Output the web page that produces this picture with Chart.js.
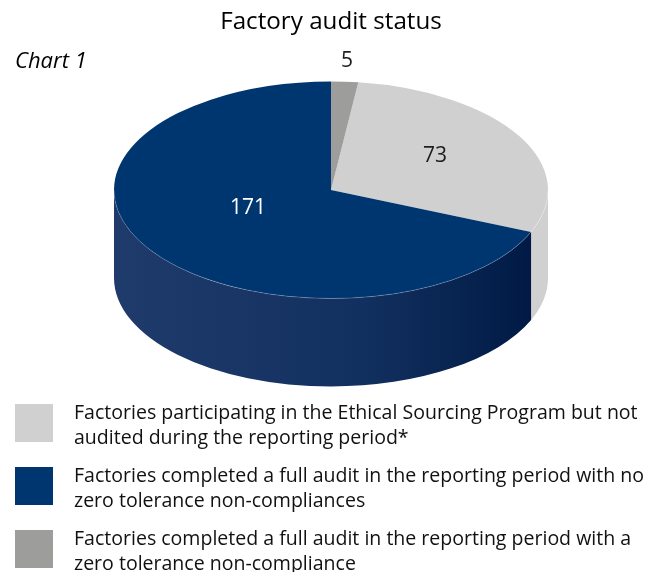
<!DOCTYPE html>
<html>
<head>
<meta charset="utf-8">
<style>html,body{margin:0;padding:0;background:#fff}canvas{display:block}</style>
<script src="https://cdn.jsdelivr.net/npm/chart.js@4"></script>
</head>
<body>
<canvas id="c" width="647" height="572"></canvas>
<script>
const titleText = 'Factory audit status';
const subtitleText = 'Chart 1';
const categories = [
  ['Factories participating in the Ethical Sourcing Program but not', 'audited during the reporting period*'],
  ['Factories completed a full audit in the reporting period with no', 'zero tolerance non-compliances'],
  ['Factories completed a full audit in the reporting period with a', 'zero tolerance non-compliance']
];
const values = [73, 171, 5];
const topColours = ['#d0d0d0', '#003670', '#9d9d9c'];
const sideFrom = ['#d0d0d0', '#1f3b6c', '#9d9d9c'];
const sideTo = ['#d0d0d0', '#001a45', '#9d9d9c'];
const labelColours = ['#1d1d1b', '#ffffff', '#1d1d1b'];
const labelOffsets = [[104, -34], [-83, 18], [16, -129]];

const FONT = '"Open Sans", "Noto Sans", sans-serif';
const squash = 0.5, depth = 88, pieRadius = 217, pieCentreY = 190;
const legendLeft = 15, legendTops = [404, 467, 530], boxSize = 38, legendTextX = 74, lineGap = 24.5;
const legendFont = '19.55px ' + FONT;

const pie3d = {
  id: 'pie3d',
  beforeDatasetDraw(chart) {
    const ctx = chart.ctx, arcs = chart.getDatasetMeta(0).data;
    const cx = arcs[0].x, r = arcs[0].outerRadius, ry = r * squash;
    arcs.forEach((arc, i) => {
      const a = Math.max(arc.startAngle, 0), b = Math.min(arc.endAngle, Math.PI);
      if (b <= a) return;
      const g = ctx.createLinearGradient(cx - r, 0, cx + r * Math.cos(a), 0);
      g.addColorStop(0, sideFrom[i]);
      g.addColorStop(0.6, i === 1 ? '#12305f' : sideFrom[i]);
      g.addColorStop(1, sideTo[i]);
      ctx.save();
      ctx.beginPath();
      ctx.ellipse(cx, pieCentreY, r, ry, 0, a, b);
      ctx.ellipse(cx, pieCentreY + depth, r, ry, 0, b, a, true);
      ctx.closePath();
      ctx.fillStyle = g;
      ctx.fill();
      ctx.restore();
    });
    ctx.save();
    ctx.translate(cx, pieCentreY);
    ctx.scale(1, squash);
    ctx.translate(-cx, -arcs[0].y);
  },
  afterDatasetDraw(chart) {
    const ctx = chart.ctx, arcs = chart.getDatasetMeta(0).data;
    ctx.restore();
    const cx = arcs[0].x, r = arcs[0].outerRadius;
    ctx.save();
    ctx.beginPath();
    ctx.ellipse(cx, pieCentreY, r, r * squash, 0, 0, Math.PI);
    ctx.strokeStyle = 'rgba(255,255,255,0.35)';
    ctx.lineWidth = 0.6;
    ctx.stroke();
    ctx.font = '21px ' + FONT;
    ctx.textAlign = 'center';
    ctx.textBaseline = 'middle';
    values.forEach((v, i) => {
      ctx.fillStyle = labelColours[i];
      ctx.fillText(String(v), cx + labelOffsets[i][0], pieCentreY + labelOffsets[i][1]);
    });
    ctx.restore();
  }
};

const boxLegend = {
  id: 'boxLegend',
  afterDraw(chart) {
    const ctx = chart.ctx;
    const ds = chart.data.datasets[0];
    ctx.save();
    ctx.font = legendFont;
    ctx.textBaseline = 'middle';
    ctx.textAlign = 'left';
    chart.data.labels.forEach((lines, i) => {
      ctx.fillStyle = ds.backgroundColor[i];
      ctx.fillRect(legendLeft, legendTops[i], boxSize, boxSize);
      ctx.fillStyle = '#111111';
      lines.forEach((t, j) => ctx.fillText(t, legendTextX, legendTops[i] + 9.5 + j * lineGap));
    });
    ctx.restore();
  }
};

new Chart(document.getElementById('c'), {
  type: 'pie',
  data: {
    labels: categories,
    datasets: [{ data: values, backgroundColor: topColours, borderWidth: 0 }]
  },
  options: {
    responsive: false,
    animation: false,
    rotation: values[2] / values.reduce((s, v) => s + v, 0) * 360,
    radius: pieRadius,
    layout: { padding: { left: 15, top: 8 } },
    plugins: {
      legend: { display: false },
      tooltip: { enabled: false },
      title: {
        display: true, text: titleText, color: '#000000',
        font: { family: FONT, size: 24.2, weight: 'normal' },
        padding: { top: 0, bottom: 11 }
      },
      subtitle: {
        display: true, text: subtitleText, color: '#000000', align: 'start',
        font: { family: FONT, size: 22, style: 'italic', weight: 'normal' },
        padding: { top: 0, bottom: 0 }
      }
    }
  },
  plugins: [pie3d, boxLegend]
});
</script>
</body>
</html>
